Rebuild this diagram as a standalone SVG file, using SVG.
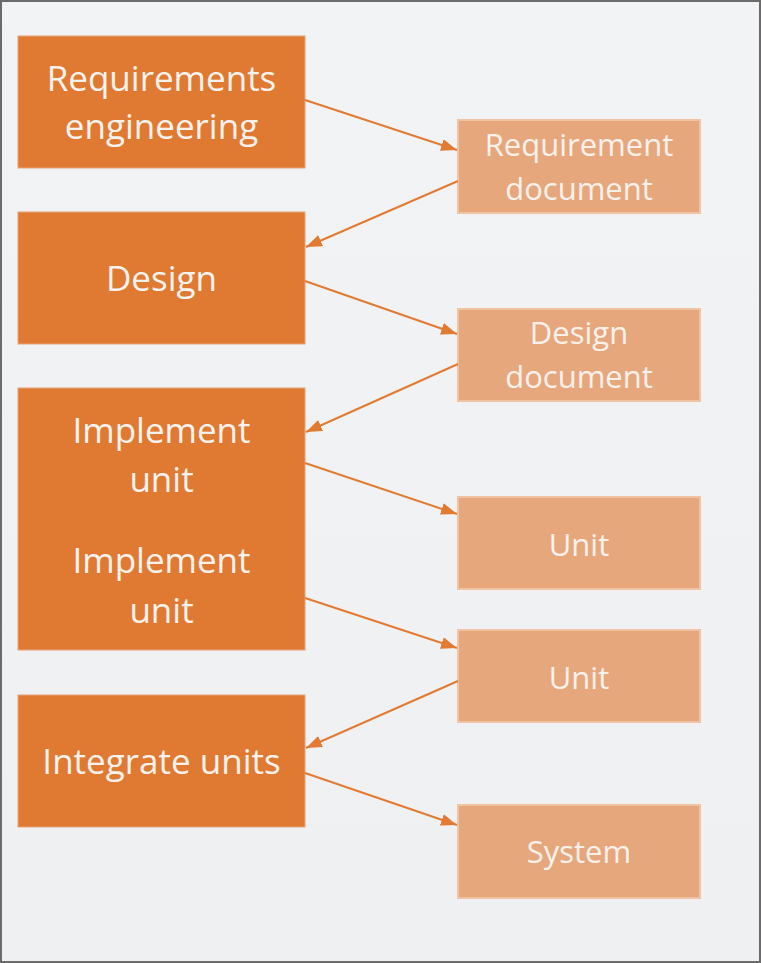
<svg xmlns="http://www.w3.org/2000/svg" width="761" height="963" viewBox="0 0 761 963">
<defs>
<marker id="ah" viewBox="0 0 10 10" refX="10" refY="5" markerWidth="16" markerHeight="12" markerUnits="userSpaceOnUse" orient="auto" preserveAspectRatio="none">
<path d="M0,0 L10,5 L0,10 z" fill="#E27A32"/>
</marker>
<linearGradient id="bg" x1="0" y1="0" x2="0" y2="1">
<stop offset="0" stop-color="#F2F3F4"/>
<stop offset="1" stop-color="#EFF0F1"/>
</linearGradient>
<style>
.main{fill:#E07A32;stroke:#E8A27A;stroke-width:1}
.art{fill:#E6A77D;stroke:#F0C3A3;stroke-width:2}
.t1{font-family:"Open Sans","Noto Sans",sans-serif;font-size:35px;fill:#F6F3EF;text-anchor:middle}
.t2{font-family:"Open Sans","Noto Sans",sans-serif;font-size:31px;fill:#F7F1EC;text-anchor:middle}
.c{stroke:#E27A32;stroke-width:2;fill:none}
</style>
</defs>
<rect x="0" y="0" width="761" height="963" fill="url(#bg)"/>
<rect x="1" y="1" width="759" height="961" fill="none" stroke="#6B6B6B" stroke-width="2"/>
<g id="requirements-engineering">
<rect class="main" x="18" y="36" width="287" height="132"/>
<text class="t1" x="161.5" y="91">Requirements</text>
<text class="t1" x="161.5" y="139">engineering</text>
</g>
<g id="design">
<rect class="main" x="18" y="212" width="287" height="132"/>
<text class="t1" x="161.5" y="291">Design</text>
</g>
<g id="implement-unit">
<rect class="main" x="18" y="388" width="287" height="262"/>
<text class="t1" x="161.5" y="443">Implement</text>
<text class="t1" x="161.5" y="492">unit</text>
<text class="t1" x="161.5" y="573">Implement</text>
<text class="t1" x="161.5" y="623">unit</text>
</g>
<g id="integrate-units">
<rect class="main" x="18" y="695" width="287" height="132"/>
<text class="t1" x="161.5" y="774">Integrate units</text>
</g>
<g id="requirement-document">
<rect class="art" x="458" y="120" width="242" height="93"/>
<text class="t2" x="579" y="156">Requirement</text>
<text class="t2" x="579" y="200">document</text>
</g>
<g id="design-document">
<rect class="art" x="458" y="309" width="242" height="92"/>
<text class="t2" x="579" y="344">Design</text>
<text class="t2" x="579" y="388">document</text>
</g>
<g id="unit-1">
<rect class="art" x="458" y="497" width="242" height="92"/>
<text class="t2" x="579" y="556">Unit</text>
</g>
<g id="unit-2">
<rect class="art" x="458" y="630" width="242" height="92"/>
<text class="t2" x="579" y="689">Unit</text>
</g>
<g id="system">
<rect class="art" x="458" y="805" width="242" height="93"/>
<text class="t2" x="579" y="863">System</text>
</g>
<g id="connectors">
<line class="c" x1="305" y1="100" x2="457" y2="150" marker-end="url(#ah)"/>
<line class="c" x1="458" y1="181" x2="306" y2="247" marker-end="url(#ah)"/>
<line class="c" x1="305" y1="281" x2="457" y2="334" marker-end="url(#ah)"/>
<line class="c" x1="458" y1="364" x2="306" y2="432" marker-end="url(#ah)"/>
<line class="c" x1="305" y1="463" x2="457" y2="514" marker-end="url(#ah)"/>
<line class="c" x1="305" y1="598" x2="457" y2="648" marker-end="url(#ah)"/>
<line class="c" x1="458" y1="681" x2="306" y2="748" marker-end="url(#ah)"/>
<line class="c" x1="305" y1="773" x2="457" y2="825" marker-end="url(#ah)"/>
</g>
</svg>
